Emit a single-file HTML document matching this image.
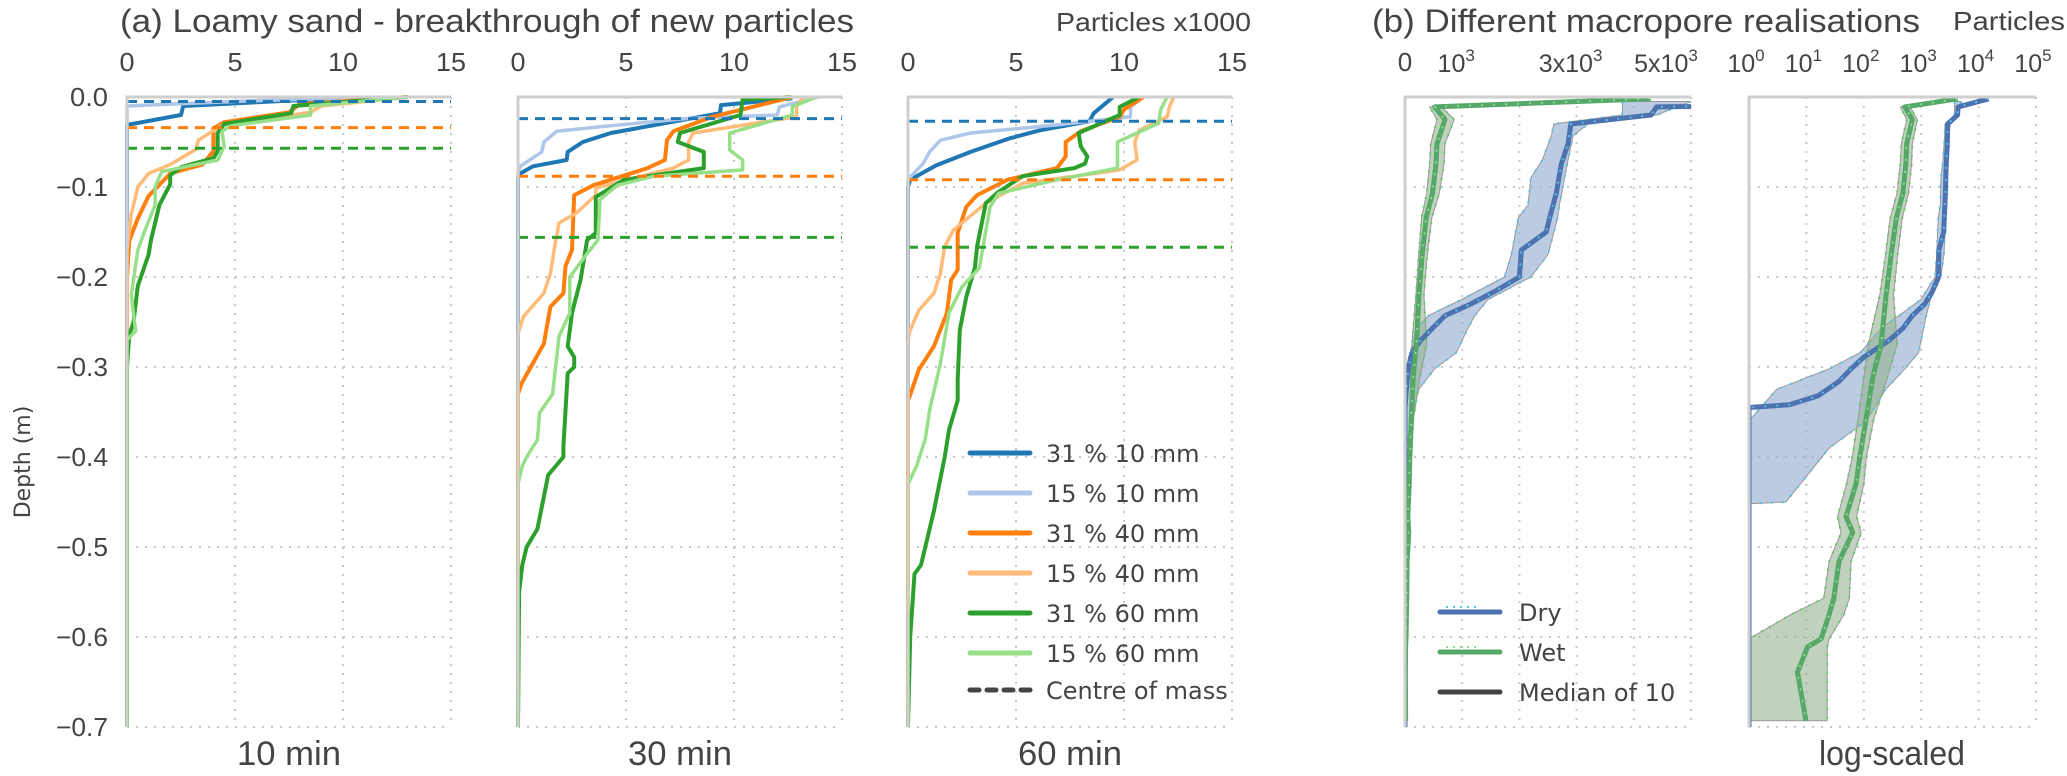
<!DOCTYPE html>
<html><head><meta charset="utf-8"><style>
html,body{margin:0;padding:0;background:#fff;}
svg{display:block;}
text{fill:#444;}
</style></head><body>
<svg id="chart" width="2067" height="776" viewBox="0 0 2067 776" xmlns="http://www.w3.org/2000/svg">
<defs>
<clipPath id="clipLin"><rect x="1405" y="90" width="286" height="640"/></clipPath>
<clipPath id="clipLog"><rect x="1749" y="90" width="288" height="640"/></clipPath>
</defs>
<g id="grid"></g><g id="marks"></g><g id="frames"></g><g id="labels"></g>
</svg>
<script>
// ---------- data: panel (a) ----------
const seriesNames = ['31 % 10 mm','15 % 10 mm','31 % 40 mm','15 % 40 mm','31 % 60 mm','15 % 60 mm'];
const panelTitles = ['10 min','30 min','60 min'];
const xTicksA = [0,5,10,15];
const yTicks = [0.0,-0.1,-0.2,-0.3,-0.4,-0.5,-0.6,-0.7];
// [particles x1000, depth m]
const m10_31_10 = [[12,-0.001],[7.5,-0.004],[2.6,-0.010],[2.5,-0.020],[0,-0.031],[0,-0.7]];
const m10_15_10 = [[12,0],[6,-0.004],[0,-0.010],[0,-0.7]];
const m10_31_40 = [[13,0],[8,-0.008],[7.5,-0.017],[4.5,-0.028],[4,-0.035],[4,-0.06],[3.5,-0.075],[2,-0.085],[1,-0.11],[0.5,-0.135],[0.1,-0.16],[0,-0.2],[0,-0.7]];
const m10_15_40 = [[13,0],[9,-0.01],[8.5,-0.017],[4.5,-0.03],[3.3,-0.048],[3.2,-0.058],[2,-0.075],[1,-0.085],[0.5,-0.1],[0.2,-0.13],[0,-0.17],[0,-0.7]];
const m10_31_60 = [[13,0],[7.7,-0.01],[7.6,-0.018],[4.5,-0.03],[4.2,-0.04],[4.2,-0.06],[4,-0.068],[2.5,-0.078],[2,-0.087],[2,-0.097],[1.5,-0.12],[1.1,-0.16],[1,-0.175],[0.5,-0.21],[0.3,-0.25],[0.1,-0.265],[0,-0.3],[0,-0.7]];
const m10_15_60 = [[13,0],[8.5,-0.01],[8.5,-0.02],[4.8,-0.032],[4.4,-0.038],[4.5,-0.055],[4.2,-0.07],[1.6,-0.083],[1.3,-0.1],[1.3,-0.12],[0.8,-0.15],[0.5,-0.17],[0.2,-0.22],[0.4,-0.26],[0,-0.27],[0,-0.7]];
const m30_31_10 = [[12.7,-0.0015],[9.4,-0.009],[9.35,-0.018],[4.3,-0.040],[3.0,-0.050],[2.3,-0.061],[2.25,-0.070],[0.7,-0.077],[0.1,-0.085],[0,-0.09],[0,-0.7]];
const m30_15_10 = [[13.9,0],[12.1,-0.011],[12,-0.02],[7.8,-0.024],[3.8,-0.033],[1.8,-0.038],[1.2,-0.05],[1.1,-0.061],[0.1,-0.077],[0,-0.085],[0,-0.7]];
const m30_31_40 = [[12.7,0],[9,-0.022],[7.2,-0.038],[6.9,-0.048],[6.8,-0.07],[6,-0.079],[3.5,-0.098],[2.6,-0.109],[2.5,-0.17],[2.2,-0.188],[2.1,-0.218],[1.5,-0.233],[1.2,-0.274],[0.17,-0.318],[0,-0.33],[0,-0.7]];
const m30_15_40 = [[13.2,0],[12.9,-0.011],[12.9,-0.022],[8.1,-0.040],[7.9,-0.05],[7.9,-0.07],[7.2,-0.079],[3.6,-0.101],[3.6,-0.109],[2.7,-0.129],[1.9,-0.14],[1.7,-0.166],[1.5,-0.196],[1.2,-0.218],[0.25,-0.244],[0,-0.263],[0,-0.7]];
const m30_31_60 = [[12.6,0],[10.4,-0.003],[10.3,-0.02],[7.5,-0.04],[7.4,-0.05],[8.6,-0.061],[8.6,-0.079],[4.9,-0.092],[3.6,-0.111],[3.6,-0.151],[3.2,-0.159],[2.9,-0.203],[2.5,-0.24],[2.3,-0.277],[2.6,-0.289],[2.6,-0.3],[2.3,-0.307],[2.1,-0.388],[2.1,-0.40],[1.4,-0.42],[0.9,-0.48],[0.4,-0.5],[0.2,-0.52],[0.05,-0.55],[0,-0.7]];
const m30_15_60 = [[13.8,0],[12.7,-0.011],[12.7,-0.02],[9.8,-0.040],[9.8,-0.059],[10.4,-0.07],[10.4,-0.081],[6.3,-0.088],[4.6,-0.098],[3.8,-0.114],[3.7,-0.159],[3.2,-0.174],[2.4,-0.2],[2.4,-0.24],[1.9,-0.266],[1.6,-0.33],[1.0,-0.351],[0.9,-0.381],[0.4,-0.4],[0.2,-0.41],[0,-0.43],[0,-0.7]];
const m60_31_10 = [[9.5,0],[8.6,-0.018],[8.4,-0.027],[6.1,-0.037],[4.7,-0.046],[2.9,-0.061],[1.3,-0.076],[0.1,-0.092],[0,-0.1],[0,-0.7]];
const m60_15_10 = [[10.9,0],[10.3,-0.011],[10.3,-0.022],[6.9,-0.031],[2.9,-0.04],[1.5,-0.048],[1.0,-0.061],[0.7,-0.074],[0.1,-0.089],[0,-0.092],[0,-0.7]];
const m60_31_40 = [[10.9,0],[10,-0.014],[9.8,-0.022],[8,-0.038],[7.3,-0.05],[7.3,-0.066],[6.9,-0.079],[4.6,-0.092],[3.2,-0.109],[2.7,-0.122],[2.3,-0.151],[2.3,-0.192],[2,-0.203],[1.8,-0.24],[1.2,-0.277],[0.5,-0.303],[0.1,-0.331],[0,-0.337],[0,-0.7]];
const m60_15_40 = [[12.3,0],[12.1,-0.011],[12,-0.022],[10.7,-0.037],[10.5,-0.05],[10.6,-0.07],[9.8,-0.081],[5.3,-0.096],[3.6,-0.118],[2.1,-0.148],[1.7,-0.166],[1.5,-0.196],[1.2,-0.218],[0.5,-0.237],[0.1,-0.259],[0,-0.27],[0,-0.7]];
const m60_31_60 = [[10.7,0],[9.8,-0.011],[9.8,-0.02],[7.9,-0.04],[8,-0.055],[8.3,-0.066],[8.2,-0.074],[7.7,-0.079],[5.3,-0.088],[4.1,-0.107],[3.6,-0.118],[3.2,-0.166],[3.1,-0.189],[2.7,-0.222],[2.4,-0.259],[2.3,-0.314],[2.3,-0.337],[1.9,-0.37],[1.7,-0.4],[1.2,-0.46],[0.8,-0.5],[0.6,-0.52],[0.3,-0.53],[0.1,-0.6],[0,-0.7]];
const m60_15_60 = [[12,0],[11.7,-0.014],[11.6,-0.029],[9.7,-0.05],[9.7,-0.079],[6.9,-0.092],[4.2,-0.107],[3.8,-0.122],[3.3,-0.19],[2.5,-0.211],[1.9,-0.24],[1.5,-0.296],[1,-0.348],[0.8,-0.38],[0.4,-0.41],[0,-0.43],[0,-0.7]];
const centreOfMass10 = [-0.005,-0.034,-0.057];
const centreOfMass30 = [-0.024,-0.088,-0.156];
const centreOfMass60 = [-0.027,-0.092,-0.167];

// ---------- data: panel (b) ----------
const dryDepth = [-0.002,-0.011,-0.02,-0.03,-0.052,-0.075,-0.107,-0.134,-0.15,-0.17,-0.2,-0.216,-0.23,-0.243,-0.257,-0.27,-0.28,-0.289,-0.302,-0.316,-0.332,-0.342,-0.345,-0.7];
const dryMedian = [15000,4400,4300,2900,2850,2730,2645,2530,2470,2035,2000,1570,1150,700,480,280,165,100,60,37,16,5,0,0];
const dryBandDepth = [-0.005,-0.02,-0.03,-0.043,-0.07,-0.09,-0.12,-0.134,-0.175,-0.2,-0.225,-0.243,-0.257,-0.284,-0.302,-0.325,-0.36,-0.39,-0.45,-0.452];
const dryLow = [3800,3800,2600,2560,2400,2200,2150,1980,1860,1740,990,407,200,87,25,3,0,0,0,0];
const dryHigh = [5000,4400,3200,2940,2850,2790,2700,2670,2500,2200,1450,1220,1100,900,520,240,110,25,4.4,0];
const wetDepth = [-0.002,-0.011,-0.025,-0.052,-0.075,-0.107,-0.134,-0.175,-0.22,-0.275,-0.311,-0.357,-0.402,-0.43,-0.466,-0.484,-0.516,-0.557,-0.575,-0.602,-0.611,-0.639,-0.693];
const wetMedian = [4300,520,700,560,540,480,370,300,245,200,144,110,84,73,49,64,37,30,25,18,10.5,7,9.8];
const wetLow = [4300,430,560,450,430,380,290,240,190,120,100,80,62,50,35,40,25,20,5.4,1,1,1,1];
const wetHigh = [4300,640,860,700,680,600,470,390,330,380,260,150,110,100,75,90,60,56,45,25,23,23,23];
const xTicksLin = [0,1000,3000,5000];
const xTicksLog = [0,1,2,3,4,5];

const NS='http://www.w3.org/2000/svg';
function el(tag, attrs, parent){const e=document.createElementNS(NS,tag);for(const k in attrs)e.setAttribute(k,attrs[k]);parent.appendChild(e);return e;}
const G=document.getElementById('grid'),M=document.getElementById('marks'),F=document.getElementById('frames'),L=document.getElementById('labels');

const Y0=97, YS=900;
function y(d){return Y0 - d*YS;}
const panelLeft=[127,518,908], unitA=21.6;
function xa(p,v){return panelLeft[p]+v*unitA;}
function xLin(v){return 1405+v*0.0572;}
function xLog(v){return 1749+Math.log10(Math.max(v,1))*57.4;}
const YB=y(-0.7);
const gridStyle={stroke:'#c8c8c8','stroke-width':2,'stroke-dasharray':'2 7',fill:'none'};

function grid(x0,x1,xs){
  xs.forEach(x=>{const g=el('line',Object.assign({x1:x,x2:x,y1:Y0,y2:YB},gridStyle),G);
    
    });
  yTicks.forEach(t=>{const g=el('line',Object.assign({x1:x0,x2:x1,y1:y(t),y2:y(t)},gridStyle),G);
    
    });
}
function frame(x0,x1,name){
  const f=el('path',{d:`M${x0},${YB} L${x0},${Y0} L${x1},${Y0}`,stroke:'#cfcfcf','stroke-width':3,fill:'none'},F);
  
  
}
function txt(s,x,yy,opt,name){
  const t=el('text',Object.assign({x:x,y:yy,'font-family':'"Liberation Sans", sans-serif','font-size':26,'text-anchor':'middle'},opt||{}),L);
  t.textContent=s;
  
  
  return t;
}

// ---- panel (a)
const colors=['#1f77b4','#aec7e8','#ff7f0e','#ffbb78','#2ca02c','#98df8a'];
const comColors=['#1f77b4','#ff7f0e','#2ca02c'];
const allSeries=[[m10_31_10,m10_15_10,m10_31_40,m10_15_40,m10_31_60,m10_15_60],
                 [m30_31_10,m30_15_10,m30_31_40,m30_15_40,m30_31_60,m30_15_60],
                 [m60_31_10,m60_15_10,m60_31_40,m60_15_40,m60_31_60,m60_15_60]];
const allCoM=[centreOfMass10,centreOfMass30,centreOfMass60];
for(let p=0;p<3;p++){
  const x0=xa(p,0),x1=xa(p,15);
  grid(x0,x1,xTicksA.slice(1).map(v=>xa(p,v)));
  allSeries[p].forEach((s,i)=>{
    const pts=s.map(q=>xa(p,q[0]).toFixed(1)+','+y(q[1]).toFixed(1)).join(' ');
    const l=el('polyline',{points:pts,stroke:colors[i],'stroke-width':i%2?3.5:4,fill:'none','stroke-linejoin':'round'},M);
    
    
  });
  allCoM[p].forEach((d,i)=>{
    const l=el('line',{x1:x0,x2:x1,y1:y(d),y2:y(d),stroke:comColors[i],'stroke-width':3,'stroke-dasharray':'10 7'},M);
    
    
  });
  frame(x0,x1,'panel-frame-'+panelTitles[p].replace(' ',''));
  xTicksA.forEach(v=>txt(String(v),xa(p,v),71,{'textLength':v>=10?30:15,'lengthAdjust':'spacingAndGlyphs'},'x-tick-label'));
  txt(panelTitles[p],(x0+x1)/2,765,{'font-size':34,'textLength':104,'lengthAdjust':'spacingAndGlyphs'},'panel-label');
}
yTicks.forEach(t=>txt(t===0?'0.0':(t<0?'\u2212':'')+Math.abs(t).toFixed(1),108,y(t)+9,{'text-anchor':'end','textLength':t===0?38:52,'lengthAdjust':'spacingAndGlyphs'},'y-tick-label'));
txt('Depth (m)',0,0,{'font-family':'"DejaVu Sans", sans-serif','font-size':22,transform:'translate(30,462) rotate(-90)'},'y-axis-title');
txt('(a) Loamy sand - breakthrough of new particles',120,32,{'text-anchor':'start','font-size':32,'textLength':734,'lengthAdjust':'spacingAndGlyphs'},'title-a');
txt('Particles x1000',1251,31,{'text-anchor':'end','font-size':26,'textLength':195,'lengthAdjust':'spacingAndGlyphs'},'x-axis-title-a');

// legend (a)
const legA=el('g',{},L);


seriesNames.concat(['Centre of mass']).forEach((n,i)=>{
  const yy=453+i*40-(i==6?3:0);
  const ln=el('line',{x1:970,x2:1030,y1:yy,y2:yy,stroke:i<6?colors[i]:'#444','stroke-width':5,'stroke-linecap':'round','stroke-dasharray':i<6?'none':'9 8'},legA);
  
  
  const t=el('text',{x:1046,y:yy+9,'font-family':'"DejaVu Sans", sans-serif','font-size':24,fill:'#444'},legA);
  t.textContent=n;
  
  
});

// ---- panel (b)
grid(1405,1691,xTicksLin.slice(1).concat([2000,4000]).map(xLin));
grid(1749,2036,xTicksLog.slice(1).map(e=>xLog(Math.pow(10,e))));
function band(depths,lo,hi,fx,fill,clip,name){
  const a=depths.map((d,i)=>fx(hi[i]).toFixed(1)+','+y(d).toFixed(1));
  const b=depths.map((d,i)=>fx(lo[i]).toFixed(1)+','+y(d).toFixed(1)).reverse();
  const p=el('polygon',{points:a.concat(b).join(' '),fill:fill,stroke:'#999','stroke-width':1,'clip-path':clip},M);
  
  
}
function line(depths,vals,fx,stroke,w,dash,clip,name){
  const pts=depths.map((d,i)=>fx(vals[i]).toFixed(1)+','+y(d).toFixed(1)).join(' ');
  const l=el('polyline',{points:pts,stroke:stroke,'stroke-width':w,fill:'none','stroke-dasharray':dash,'clip-path':clip,'stroke-linejoin':'round'},M);
  
  
}
[[xLin,'url(#clipLin)','linear'],[xLog,'url(#clipLog)','log']].forEach(([fx,clip,nm])=>{
  band(dryBandDepth,dryLow,dryHigh,fx,'rgba(150,175,210,0.65)',clip,'dry-band-'+nm);
  band(wetDepth,wetLow,wetHigh,fx,'rgba(150,180,145,0.6)',clip,'wet-band-'+nm);
  line(dryBandDepth,dryLow,fx,'#5bc0e8',2,'2 9',clip,'dry-realisation-dots-'+nm);
  line(dryBandDepth,dryHigh,fx,'#5bc0e8',2,'2 9',clip,'dry-realisation-dots-'+nm);
  line(wetDepth,wetLow,fx,'#6cc46c',2,'2 7',clip,'wet-realisation-dots-'+nm);
  line(wetDepth,wetHigh,fx,'#6cc46c',2,'2 7',clip,'wet-realisation-dots-'+nm);
  line(dryDepth,dryMedian,fx,'#4c72b0',5,'none',clip,'dry-median-'+nm);
  line(dryDepth,dryMedian,fx,'#5bc0e8',2,'2 10',clip,'dry-median-dots-'+nm);
  line(wetDepth,wetMedian,fx,'#55a868',5,'none',clip,'wet-median-'+nm);
  line(wetDepth,wetMedian,fx,'#8fd88f',2,'2 10',clip,'wet-median-dots-'+nm);
});
frame(1405,1691,'panel-frame-linear');
frame(1749,2036,'panel-frame-log');
txt('0',xLin(0),71,{'font-size':26},'x-tick-label');
const linLabels=['10','3x10','5x10'];
[1000,3000,5000].forEach((v,i)=>{
  const cx=v===5000?1672:xLin(v);
  const t=txt(linLabels[i],cx-6,72,{'font-size':25},'x-tick-label');
  const s=el('tspan',{dy:-11,'font-size':17},t);s.textContent='3';
});
xTicksLog.forEach(e=>{
  const t=txt('10',xLog(Math.pow(10,e))-3,72,{'font-size':25},'x-tick-label');
  const s=el('tspan',{dy:-11,'font-size':17},t);s.textContent=String(e);
});
txt('(b) Different macropore realisations',1372,32,{'text-anchor':'start','font-size':32,'textLength':548,'lengthAdjust':'spacingAndGlyphs'},'title-b');
txt('Particles',1953,30,{'text-anchor':'start','font-size':26,'textLength':112,'lengthAdjust':'spacingAndGlyphs'},'x-axis-title-b');
txt('log-scaled',1892,765,{'font-size':34,'textLength':146,'lengthAdjust':'spacingAndGlyphs'},'panel-label');

// legend (b)
const legB=el('g',{},L);


[['Dry','#4c72b0','#5bc0e8'],['Wet','#55a868','#8fd88f'],['Median of 10','#444',null]].forEach((e,i)=>{
  const yy=612+i*40;
  const ln=el('line',{x1:1440,x2:1500,y1:yy,y2:yy,stroke:e[1],'stroke-width':5,'stroke-linecap':'round'},legB);
  
  
  if(e[2]){const d=el('line',{x1:1446,x2:1480,y1:yy-5,y2:yy-5,stroke:e[2],'stroke-width':2,'stroke-dasharray':'2 5'},legB);
    
    }
  const t=el('text',{x:1519,y:yy+9,'font-family':'"DejaVu Sans", sans-serif','font-size':24,fill:'#444'},legB);
  t.textContent=e[0];
  
  
});
</script>
</body></html>
